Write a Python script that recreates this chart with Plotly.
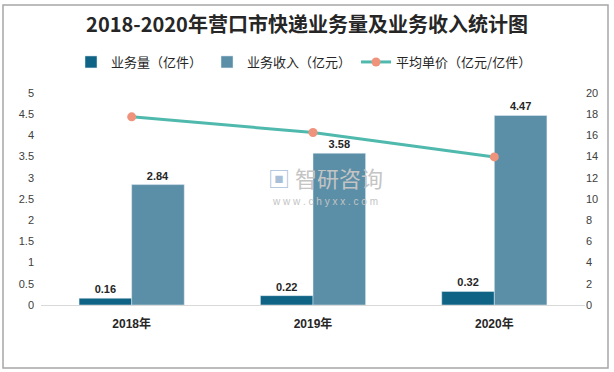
import plotly.graph_objects as go

years = ["2018年", "2019年", "2020年"]
volume = [0.16, 0.22, 0.32]          # 业务量（亿件）
revenue = [2.84, 3.58, 4.47]         # 业务收入（亿元）
unit_price = [17.75, 16.27, 13.97]   # 平均单价（亿元/亿件）
left_ticks = [0, 0.5, 1, 1.5, 2, 2.5, 3, 3.5, 4, 4.5, 5]
left_tick_text = ["0", "0.5", "1", "1.5", "2", "2.5", "3", "3.5", "4", "4.5", "5"]
right_ticks = [0, 2, 4, 6, 8, 10, 12, 14, 16, 18, 20]

FONT = "Noto Sans CJK SC"
W, H = 614, 372
# target plot area in page pixels: x 41..585, y 93..305
L, R, T, B = 41, 614 - 585, 93, 372 - 305
pw, ph = W - L - R, H - T - B

def px_x(x):
    return (x - L) / pw

def px_y(y):
    return (H - B - y) / ph

fig = go.Figure()
fig.add_trace(go.Bar(
    x=years, y=volume, name="业务量（亿件）",
    marker=dict(color="#0f6384"),
    text=[f"<b>{v:.2f}</b>" for v in volume], textposition="outside",
    textfont=dict(size=11, color="#262626", family="Liberation Sans"),
    cliponaxis=False,
))
fig.add_trace(go.Bar(
    x=years, y=revenue, name="业务收入（亿元）",
    marker=dict(color="#5b8fa7"),
    text=[f"<b>{v:.2f}</b>" for v in revenue], textposition="outside",
    textfont=dict(size=11, color="#262626", family="Liberation Sans"),
    cliponaxis=False,
))
fig.add_trace(go.Scatter(
    x=years, y=unit_price, name="平均单价（亿元/亿件）", yaxis="y2",
    mode="lines+markers",
    line=dict(color="#4fb9ad", width=3),
    marker=dict(color="#f0937c", size=9),
    cliponaxis=False,
))

fig.update_layout(
    width=W, height=H,
    margin=dict(l=L, r=R, t=T, b=B, autoexpand=False),
    paper_bgcolor="white", plot_bgcolor="white",
    barmode="group", bargap=0.42, bargroupgap=0,
    showlegend=True,
    legend=dict(orientation="h", x=px_x(304), xanchor="center", y=px_y(62), yanchor="middle",
                font=dict(family=FONT, size=13, color="#262626"),
                traceorder="normal", bgcolor="rgba(0,0,0,0)"),
    title=dict(text="<b>2018-2020年营口市快递业务量及业务收入统计图</b>",
               x=307 / W, xanchor="center", y=1 - 25 / H, yanchor="middle",
               font=dict(family=FONT, size=20, color="#262626")),
    font=dict(family=FONT, color="#595959"),
    xaxis=dict(showgrid=False, showline=True, linecolor="#d9d9d9", linewidth=1,
               automargin=False, ticklabelstandoff=8,
               ticks="", tickfont=dict(size=12, color="#262626", family="Liberation Sans, " + FONT),
               tickvals=years, ticktext=[f"<b>{y}</b>" for y in years], fixedrange=True),
    yaxis=dict(range=[0, 5], tickvals=left_ticks, ticktext=left_tick_text, automargin=False,
               showgrid=False, zeroline=False, showline=False, ticks="", ticklabelstandoff=6,
               tickfont=dict(size=11, color="#404040", family="Liberation Sans")),
    yaxis2=dict(range=[0, 20], tickvals=right_ticks, overlaying="y", side="right", automargin=False,
                showgrid=False, zeroline=False, showline=False, ticks="",
                tickfont=dict(size=11, color="#404040", family="Liberation Sans")),
)

# watermark
fig.add_annotation(xref="paper", yref="paper", x=px_x(325), y=px_y(177),
                   text="<span style='color:#a9bfd8'>▣</span> 智研咨询", showarrow=False,
                   font=dict(family=FONT, size=22, color="#c4c4c4"))
fig.add_annotation(xref="paper", yref="paper", x=px_x(325), y=px_y(201),
                   text="w w w . c h y x x . c o m", showarrow=False,
                   font=dict(family="Liberation Sans", size=10, color="#c4c4c4"))

# outer border
fig.add_shape(type="rect", xref="paper", yref="paper",
              x0=px_x(3), x1=px_x(608), y0=px_y(368), y1=px_y(5),
              line=dict(color="#a6a6a6", width=1.5), fillcolor="rgba(0,0,0,0)", layer="below")

fig.write_html("out.html",
               config={"displayModeBar": False},
               post_script="document.body.style.margin='0px';document.body.style.overflow='hidden';")
